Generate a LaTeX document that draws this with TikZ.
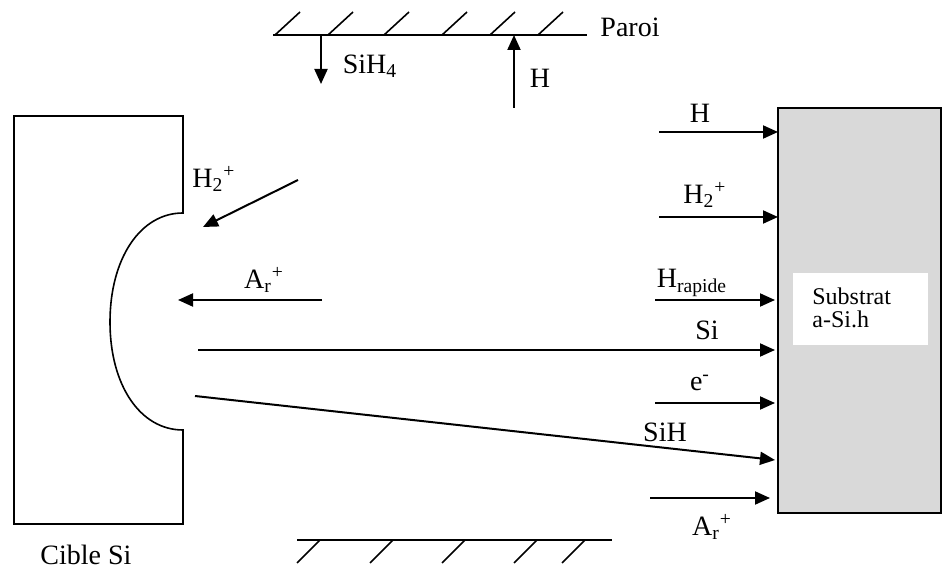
\documentclass[tikz,border=0pt]{standalone}
\usepackage{fontspec}
\setmainfont{Liberation Serif}
\usepackage{tikz}
\usetikzlibrary{arrows.meta}
\definecolor{substrat}{RGB}{217, 217, 217}

\begin{document}
\begin{tikzpicture}[x=0.5pt, y=-0.5pt,
  flux/.style={-{Triangle[length=7.5pt, width=6.5pt]}, line width=1pt},
  wall/.style={line width=0.8pt},
  lbl/.style={font=\fontsize{14}{16}\selectfont, inner sep=0pt}]

  \pgfmathsetmacro{\xs}{778};
  \pgfmathsetmacro{\xe}{941};
  \pgfmathsetmacro{\xc}{183};

  \useasboundingbox (0, 0) rectangle (944, 572);

  % paroi du haut
  \draw[wall] (273, 35) -- (587, 35);
  \foreach \x in {275, 328, 384, 442, 490, 538}
    \draw[wall] (\x, 35) -- ++(25, -23);
  \node[lbl] (paroi) at (630, 27) {Paroi};

  \coordinate (sihA) at (321, 35);
  \coordinate (sihB) at (321, 84);
  \draw[flux] (sihA) -- (sihB);
  \node[lbl] (lsih4) at (370, 66) {SiH\textsubscript{4}};

  \coordinate (hwA) at (514, 108);
  \coordinate (hwB) at (514, 35);
  \draw[flux] (hwA) -- (hwB);
  \node[lbl] (lhw) at (540, 78) {H};

  % paroi du bas
  \draw[wall] (297, 540) -- (612, 540);
  \foreach \x in {320, 393, 465, 537, 585}
    \draw[wall] (\x, 540) -- ++(-23, 23);

  % cible
  \draw[line width=0.8pt] (\xc, 213) -- (\xc, 116) -- (14, 116) -- (14, 524)
    -- (\xc, 524) -- (\xc, 430)
    .. controls (140, 430) and (110, 385) .. (110, 322)
    .. controls (110, 259) and (140, 213) .. (\xc, 213) -- cycle;
  \node[lbl] (cible) at (86, 555) {Cible Si};

  \coordinate (h2tA) at (298, 180);
  \coordinate (h2tB) at (203, 227);
  \draw[flux] (h2tA) -- (h2tB);
  \node[lbl] (lh2t) at (214, 179) {H\textsubscript{2}\textsuperscript{+}};

  \coordinate (artA) at (322, 300);
  \coordinate (artB) at (178, 300);
  \draw[flux] (artA) -- (artB);
  \node[lbl] (lart) at (264, 280) {A\textsubscript{r}\textsuperscript{+}};

  % substrat
  \fill[substrat] (\xs, 108) rectangle (\xe, 513);
  \draw[line width=1pt] (\xs, 108) rectangle (\xe, 513);
  \fill[white] (793, 273) rectangle (928, 345);
  \node[font=\fontsize{12}{11.5}\selectfont, align=left, anchor=west, inner sep=0pt]
    (sub) at (812, 308) {Substrat\\a-Si.h};

  \coordinate (hA) at (659, 132);
  \coordinate (hB) at (\xs, 132);
  \draw[flux] (hA) -- (hB);
  \node[lbl] (lh) at (700, 113) {H};

  \coordinate (h2A) at (659, 217);
  \coordinate (h2B) at (\xs, 217);
  \draw[flux] (h2A) -- (h2B);
  \node[lbl] (lh2) at (705, 195) {H\textsubscript{2}\textsuperscript{+}};

  \coordinate (hrA) at (655, 300);
  \coordinate (hrB) at (775, 300);
  \draw[flux] (hrA) -- (hrB);
  \node[lbl] (lhr) at (692, 283) {H\textsubscript{rapide}};

  \coordinate (siA) at (198, 350);
  \coordinate (siB) at (775, 350);
  \draw[flux] (siA) -- (siB);
  \node[lbl] (lsi) at (707, 330) {Si};

  \coordinate (eA) at (655, 403);
  \coordinate (eB) at (775, 403);
  \draw[flux] (eA) -- (eB);
  \node[lbl] (le) at (700, 383) {e\textsuperscript{-}};

  \coordinate (sihA2) at (195, 396);
  \coordinate (sihB2) at (775, 460);
  \draw[flux] (sihA2) -- (sihB2);
  \node[lbl] (lsih) at (665, 432) {SiH};

  \coordinate (arA) at (650, 498);
  \coordinate (arB) at (770, 498);
  \draw[flux] (arA) -- (arB);
  \node[lbl] (lar) at (712, 527) {A\textsubscript{r}\textsuperscript{+}};

\end{tikzpicture}
\end{document}
